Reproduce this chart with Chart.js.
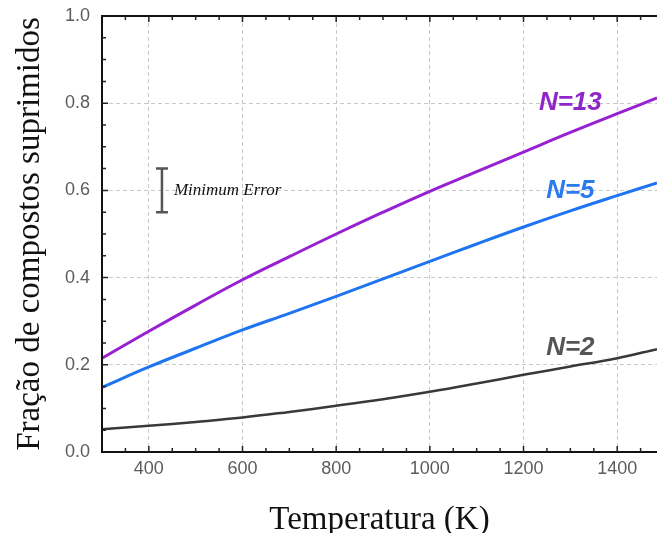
<!DOCTYPE html>
<html>
<head>
<meta charset="utf-8">
<script src="https://cdn.jsdelivr.net/npm/chart.js@4.4.0/dist/chart.umd.min.js"></script>
<style>
  html, body { margin: 0; padding: 0; background: #fff; }
  #wrap { width: 657px; height: 533px; }
</style>
</head>
<body>
<div id="wrap"><canvas id="chart" width="657" height="533"></canvas></div>
<script>
temps = [300, 400, 500, 600, 700, 800, 900, 1000, 1100, 1200, 1300, 1400, 1485]
// fraction of suppressed compounds, per N
n13 = [0.215, 0.277, 0.337, 0.395, 0.448, 0.500, 0.550, 0.598, 0.643, 0.688, 0.733, 0.776, 0.812]
n5 = [0.148, 0.195, 0.238, 0.280, 0.318, 0.357, 0.397, 0.437, 0.477, 0.516, 0.553, 0.588, 0.617]
n2 = [0.052, 0.060, 0.069, 0.079, 0.092, 0.106, 0.121, 0.138, 0.157, 0.177, 0.196, 0.215, 0.236]

xTicks = [400, 600, 800, 1000, 1200, 1400]
yTicks = [0.0, 0.2, 0.4, 0.6, 0.8, 1.0]

seriesNames = ["N=13", "N=5", "N=2"]
seriesColors = ["#9620d2", "#1f74f2", "#393939"]
labelColors = ["#8f26c9", "#2b7bf0", "#555555"]
// where the N labels sit, in data units
labelT = [1300, 1300, 1300]
labelV = [0.80, 0.60, 0.24]

// the "Minimum Error" bar
errT = 428
errLow = 0.55
errHigh = 0.65
errText = "Minimum Error"

function pts(ys) {
	return temps.map((t, i) => ({x: t, y: ys[i]}))
}

const frame = {
	id: "frame",
	afterDatasetsDraw(chart) {
		const ctx = chart.ctx
		const a = chart.chartArea
		const xs = chart.scales.x
		const ys = chart.scales.y
		ctx.save()

		// outer frame: top, left, bottom (right side is cut off)
		ctx.strokeStyle = "#111"
		ctx.lineWidth = 2
		ctx.beginPath()
		ctx.moveTo(a.right + 2, a.top)
		ctx.lineTo(a.left, a.top)
		ctx.lineTo(a.left, a.bottom)
		ctx.lineTo(a.right + 2, a.bottom)
		ctx.stroke()

		// inward ticks, every 50 K and every 0.05
		ctx.lineWidth = 1.5
		ctx.strokeStyle = "#222"
		ctx.beginPath()
		for (let t = 350; t <= 1450; t += 50) {
			const px = xs.getPixelForValue(t)
			const len = t % 200 == 0 ? 6 : 4
			ctx.moveTo(px, a.bottom)
			ctx.lineTo(px, a.bottom - len)
			ctx.moveTo(px, a.top)
			ctx.lineTo(px, a.top + len)
		}
		for (let k = 1; k < 20; k++) {
			const py = ys.getPixelForValue(k * 0.05)
			const len = k % 4 == 0 ? 6 : 4
			ctx.moveTo(a.left, py)
			ctx.lineTo(a.left + len, py)
		}
		ctx.stroke()

		// error bar
		const ex = xs.getPixelForValue(errT)
		const eTop = ys.getPixelForValue(errHigh)
		const eBot = ys.getPixelForValue(errLow)
		ctx.strokeStyle = "#555"
		ctx.lineWidth = 2.5
		ctx.beginPath()
		ctx.moveTo(ex, eTop)
		ctx.lineTo(ex, eBot)
		ctx.moveTo(ex - 6, eTop)
		ctx.lineTo(ex + 6, eTop)
		ctx.moveTo(ex - 6, eBot)
		ctx.lineTo(ex + 6, eBot)
		ctx.stroke()
		ctx.fillStyle = "#111"
		ctx.font = "italic 17px 'Liberation Serif', 'Times New Roman', serif"
		ctx.textAlign = "left"
		ctx.textBaseline = "middle"
		ctx.fillText(errText, ex + 12, ys.getPixelForValue((errLow + errHigh) / 2))

		// N labels
		ctx.font = "italic bold 26px 'Liberation Sans', Arial, sans-serif"
		ctx.textAlign = "center"
		for (let i = 0; i < seriesNames.length; i++) {
			ctx.fillStyle = labelColors[i]
			ctx.fillText(seriesNames[i], xs.getPixelForValue(labelT[i]), ys.getPixelForValue(labelV[i]))
		}
		ctx.restore()
	}
}

const chrt = document.getElementById("chart").getContext("2d")
const chartId = new Chart(chrt, {
	type: "line",
	data: {
		datasets: [
			{label: seriesNames[0], data: pts(n13), borderColor: seriesColors[0], borderWidth: 3, pointRadius: 0, tension: 0.4},
			{label: seriesNames[1], data: pts(n5), borderColor: seriesColors[1], borderWidth: 3, pointRadius: 0, tension: 0.4},
			{label: seriesNames[2], data: pts(n2), borderColor: seriesColors[2], borderWidth: 2.5, pointRadius: 0, tension: 0.4},
		]
	},
	options: {
		responsive: false,
		animation: false,
		layout: {padding: {top: 16, right: 0, left: 0, bottom: 0}},
		plugins: {legend: {display: false}, tooltip: {enabled: false}},
		scales: {
			x: {
				type: "linear",
				min: 300,
				max: 1485,
				afterBuildTicks: s => { s.ticks = xTicks.map(v => ({value: v})) },
				afterFit: s => { s.height = 81; s.paddingLeft = 0; s.paddingRight = 0 },
				grid: {color: "#c8c8c8", lineWidth: 1, drawTicks: false},
				border: {display: false, dash: [4, 3]},
				ticks: {
					padding: 6,
					color: "#5c5c5c",
					font: {family: "'Liberation Sans', Arial, sans-serif", size: 18},
					maxRotation: 0,
					callback: v => String(v)
				},
				title: {
					display: true,
					text: "Temperatura (K)",
					color: "#111",
					font: {family: "'Liberation Serif', 'Times New Roman', serif", size: 33, lineHeight: 1},
					padding: {top: 0, bottom: -4}
				}
			},
			y: {
				min: 0,
				max: 1,
				afterBuildTicks: s => { s.ticks = yTicks.map(v => ({value: v})) },
				afterFit: s => { s.width = 102; s.paddingTop = 0; s.paddingBottom = 0 },
				grid: {color: "#c8c8c8", lineWidth: 1, drawTicks: false},
				border: {display: false, dash: [4, 3]},
				ticks: {
					padding: 12,
					color: "#5c5c5c",
					font: {family: "'Liberation Sans', Arial, sans-serif", size: 18},
					callback: v => v.toFixed(1)
				},
				title: {
					display: true,
					text: "Fração de compostos suprimidos",
					color: "#111",
					font: {family: "'Liberation Serif', 'Times New Roman', serif", size: 33, lineHeight: 1},
					padding: {top: 14, bottom: 0}
				}
			}
		}
	},
	plugins: [frame]
})
</script>
</body>
</html>
